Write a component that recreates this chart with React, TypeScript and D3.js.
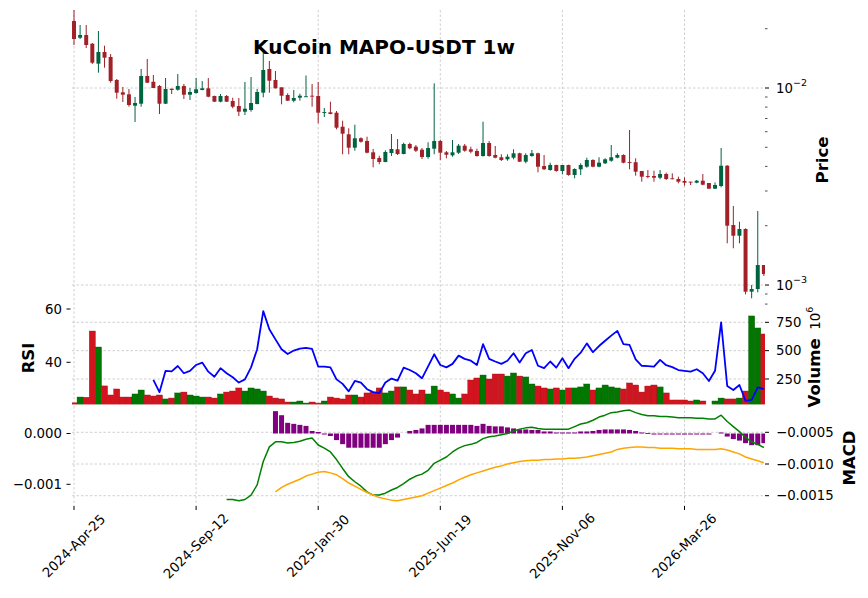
import React from 'react';
import * as d3 from 'd3';

// weekly candles, index 0 = 2024-Apr-25
const tickIdx = [0, 20, 40, 60, 80, 100];
const tickLabels = ['2024-Apr-25', '2024-Sep-12', '2025-Jan-30', '2025-Jun-19', '2025-Nov-06', '2026-Mar-26'];

const opens = [
  0.02188, 0.01800, 0.01858, 0.01678, 0.01329, 0.01523, 0.01437, 0.01098, 0.009510, 0.009290,
  0.008131, 0.008323, 0.01151, 0.01076, 0.01024, 0.008323, 0.009919, 0.009803, 0.01024, 0.009247,
  0.009433, 0.009769, 0.009965, 0.009107, 0.008520, 0.009107, 0.008590, 0.008103, 0.007581, 0.007733,
  0.008294, 0.009466, 0.01249, 0.01098, 0.01008, 0.009214, 0.008621, 0.008928, 0.009001, 0.009139,
  0.009107, 0.007493, 0.007528, 0.007493, 0.006362, 0.005821, 0.004977, 0.005555, 0.005382, 0.004716,
  0.004412, 0.004211, 0.004678, 0.004885, 0.004624, 0.005197, 0.005035, 0.004862, 0.004464, 0.004919,
  0.005382, 0.004716, 0.004554, 0.004694, 0.005095, 0.004885, 0.004789, 0.004517, 0.005258, 0.004570,
  0.004449, 0.004346, 0.004428, 0.004662, 0.004226, 0.004517, 0.004662, 0.004018, 0.003835, 0.004066,
  0.003791, 0.004066, 0.003617, 0.003867, 0.003986, 0.004311, 0.003986, 0.004147, 0.004275, 0.004428,
  0.004570, 0.004211, 0.004200, 0.003791, 0.003575, 0.003575, 0.003505, 0.003660, 0.003480, 0.003452,
  0.003372, 0.003345, 0.003306, 0.003384, 0.003294, 0.003082, 0.003181, 0.004032, 0.002016, 0.001779,
  0.001924, 0.000925, 0.000954, 0.001263,
];
const highs = [
  0.02489, 0.02088, 0.02088, 0.01692, 0.01947, 0.01640, 0.01488, 0.01111, 0.01012, 0.009884,
  0.009001, 0.01249, 0.01404, 0.01164, 0.01036, 0.01124, 0.009919, 0.01178, 0.01048, 0.01000,
  0.01124, 0.01085, 0.01124, 0.009150, 0.009322, 0.009214, 0.008928, 0.008897, 0.01073, 0.01137,
  0.009884, 0.01547, 0.01371, 0.01220, 0.01008, 0.009400, 0.009769, 0.009356, 0.01157, 0.01048,
  0.01073, 0.007916, 0.008520, 0.007643, 0.006824, 0.006244, 0.006512, 0.005620, 0.005660, 0.004902,
  0.004533, 0.004828, 0.005841, 0.005510, 0.005277, 0.005277, 0.005136, 0.004959, 0.005301, 0.01056,
  0.005464, 0.004789, 0.005445, 0.005197, 0.005197, 0.005035, 0.004919, 0.006744, 0.005382, 0.005077,
  0.004608, 0.004608, 0.004885, 0.004694, 0.004662, 0.004845, 0.004694, 0.004570, 0.004177, 0.004080,
  0.004066, 0.004080, 0.003912, 0.004147, 0.004428, 0.004346, 0.004449, 0.004397, 0.005136, 0.004662,
  0.004608, 0.006121, 0.004397, 0.003791, 0.003835, 0.003804, 0.003835, 0.003716, 0.003690, 0.003546,
  0.003521, 0.003345, 0.003412, 0.003660, 0.003294, 0.003320, 0.004959, 0.004060, 0.002518, 0.002096,
  0.001940, 0.001000, 0.002375, 0.001263,
];
const lows = [
  0.01653, 0.01773, 0.01596, 0.01324, 0.01196, 0.01268, 0.01064, 0.008824, 0.008491, 0.008036,
  0.006721, 0.008036, 0.01060, 0.01000, 0.007380, 0.008300, 0.009322, 0.009689, 0.008794, 0.008691,
  0.009356, 0.009735, 0.008970, 0.008500, 0.008461, 0.008491, 0.007888, 0.007209, 0.007293, 0.007581,
  0.008265, 0.008970, 0.009466, 0.009950, 0.008265, 0.008590, 0.008461, 0.008621, 0.009000, 0.008036,
  0.006619, 0.007125, 0.007354, 0.006171, 0.004608, 0.004608, 0.004806, 0.005277, 0.004662, 0.003958,
  0.004099, 0.004200, 0.004517, 0.004570, 0.004608, 0.004885, 0.004733, 0.004361, 0.004377, 0.004608,
  0.004311, 0.004397, 0.004480, 0.004624, 0.004750, 0.004662, 0.004480, 0.004480, 0.004480, 0.004397,
  0.004260, 0.004275, 0.004346, 0.004211, 0.004147, 0.004480, 0.003733, 0.003835, 0.003804, 0.003760,
  0.003647, 0.003588, 0.003480, 0.003617, 0.003940, 0.003958, 0.003958, 0.004114, 0.004226, 0.004397,
  0.004147, 0.003867, 0.003588, 0.003345, 0.003480, 0.003345, 0.003440, 0.003412, 0.003440, 0.003283,
  0.003192, 0.003219, 0.003283, 0.003208, 0.003082, 0.003070, 0.003133, 0.001628, 0.001536, 0.001628,
  0.000897, 0.000856, 0.000918, 0.001111,
];
const closes = [
  0.01773, 0.01858, 0.01653, 0.01344, 0.01523, 0.01425, 0.01085, 0.009466, 0.009247, 0.008198,
  0.008392, 0.01151, 0.01064, 0.01000, 0.008323, 0.009884, 0.009769, 0.01024, 0.009247, 0.009543,
  0.009849, 0.009965, 0.009033, 0.008520, 0.009107, 0.008520, 0.008036, 0.007581, 0.007851, 0.008392,
  0.009543, 0.01234, 0.01089, 0.009965, 0.009139, 0.008621, 0.008897, 0.009139, 0.009075, 0.009075,
  0.007493, 0.007554, 0.007380, 0.006288, 0.005862, 0.004977, 0.005555, 0.005339, 0.004694, 0.004361,
  0.004211, 0.004733, 0.004902, 0.004624, 0.005197, 0.004942, 0.004806, 0.004464, 0.004959, 0.005382,
  0.004694, 0.004586, 0.004716, 0.005095, 0.004806, 0.004750, 0.004517, 0.005258, 0.004517, 0.004428,
  0.004311, 0.004480, 0.004662, 0.004226, 0.004570, 0.004662, 0.003986, 0.003867, 0.004066, 0.003791,
  0.004066, 0.003617, 0.003880, 0.004066, 0.004311, 0.003986, 0.004177, 0.004346, 0.004449, 0.004570,
  0.004177, 0.004186, 0.003760, 0.003546, 0.003546, 0.003505, 0.003660, 0.003452, 0.003452, 0.003345,
  0.003306, 0.003320, 0.003384, 0.003230, 0.003082, 0.003219, 0.004032, 0.002000, 0.001779, 0.001924,
  0.000925, 0.000954, 0.001263, 0.001137,
];
// volume in units of 10^6
const volumes = [
  40, 91, 89, 673, 532, 189, 109, 162, 91, 91,
  118, 153, 109, 100, 109, 74, 82, 127, 135, 109,
  100, 91, 91, 82, 118, 135, 144, 171, 144, 171,
  162, 144, 100, 82, 74, 47, 47, 56, 38, 47,
  38, 56, 91, 82, 74, 109, 109, 91, 127, 135,
  171, 127, 144, 180, 180, 153, 118, 153, 118, 188,
  153, 135, 118, 82, 118, 241, 259, 285, 250, 294,
  294, 276, 303, 276, 268, 206, 188, 171, 162, 171,
  153, 171, 171, 180, 206, 153, 171, 197, 180, 171,
  162, 215, 197, 135, 188, 197, 180, 127, 65, 65,
  65, 56, 65, 56, 0, 56, 82, 74, 74, 82,
  144, 806, 700, 647,
];

const rsiStart = 13;
const rsi = [
  33.4, 28.8, 36.8, 36.6, 38.6, 35.9, 36.8, 39.0, 39.9, 36.5,
  34.6, 37.8, 35.9, 34.4, 32.4, 33.6, 38.1, 44.9, 59.2, 52.4,
  48.6, 44.9, 43.1, 44.4, 45.1, 45.4, 45.0, 38.4, 38.4, 38.1,
  33.6, 31.9, 29.1, 33.0, 32.4, 29.9, 28.8, 28.4, 32.4, 33.9,
  33.1, 38.0, 37.1, 35.9, 34.0, 38.5, 43.0, 39.0, 38.1, 39.4,
  42.5, 41.3, 40.6, 39.0, 46.8, 41.3, 40.3, 39.4, 40.6, 43.4,
  39.9, 43.4, 44.6, 38.7, 37.8, 40.3, 38.0, 41.5, 37.8, 41.3,
  43.6, 47.1, 43.8, 46.1, 48.1, 50.0, 51.8, 46.8, 46.5, 41.1,
  38.7, 38.6, 38.4, 40.9, 38.9, 38.2, 37.1, 36.8, 36.5, 37.4,
  35.9, 33.0, 36.8, 55.0, 31.1, 29.6, 31.5, 25.5, 25.9, 30.6, 29.9,
];

const macdStart = 25;
const macd = [
  -0.00156, -0.00156, -0.00158, -0.00156, -0.00149, -0.00133, -0.00096, -0.00073, -0.00065, -0.00065,
  -0.00067, -0.00066, -0.00064, -0.00061, -0.00059, -0.00070, -0.00075, -0.00081, -0.00093, -0.00107,
  -0.00120, -0.00128, -0.00135, -0.00144, -0.00149, -0.00149, -0.00146, -0.00141, -0.00137, -0.00131,
  -0.00124, -0.00119, -0.00116, -0.00110, -0.00099, -0.00094, -0.00089, -0.00081, -0.00075, -0.00071,
  -0.00069, -0.00066, -0.00060, -0.00057, -0.00056, -0.00054, -0.00052, -0.00048, -0.00045, -0.00043,
  -0.00042, -0.00044, -0.00045, -0.00045, -0.00045, -0.00045, -0.00045, -0.00041, -0.00037, -0.00035,
  -0.00031, -0.00026, -0.00023, -0.00019, -0.00018, -0.00016, -0.00015, -0.00019, -0.00022, -0.00024,
  -0.00024, -0.00025, -0.00025, -0.00026, -0.00027, -0.00027, -0.00027, -0.00028, -0.00028, -0.00029,
  -0.00029, -0.00023, -0.00033, -0.00041, -0.00049, -0.00058, -0.00065, -0.00069, -0.00074,
];

const signalStart = 33;
const signal = [
  -0.00144, -0.00137, -0.00132, -0.00128, -0.00124, -0.00119, -0.00116, -0.00113, -0.00112, -0.00114,
  -0.00117, -0.00123, -0.00130, -0.00135, -0.00140, -0.00145, -0.00149, -0.00153, -0.00155, -0.00157,
  -0.00158, -0.00156, -0.00154, -0.00152, -0.00150, -0.00146, -0.00142, -0.00138, -0.00134, -0.00130,
  -0.00125, -0.00121, -0.00117, -0.00114, -0.00111, -0.00108, -0.00105, -0.00103, -0.00100, -0.00098,
  -0.00096, -0.00095, -0.00094, -0.00094, -0.00093, -0.00093, -0.00092, -0.00092, -0.00091, -0.00091,
  -0.00090, -0.00089, -0.00087, -0.00085, -0.00083, -0.00081, -0.00077, -0.00075, -0.00074, -0.00073,
  -0.00073, -0.00074, -0.00074, -0.00075, -0.00075, -0.00075, -0.00076, -0.00076, -0.00076, -0.00077,
  -0.00077, -0.00077, -0.00077, -0.00076, -0.00078, -0.00081, -0.00084, -0.00089, -0.00092, -0.00095, -0.00098,
];

const histStart = 33;
const hist = [
  0.00044, 0.00036, 0.00021, 0.00019, 0.00017, 0.00015, 0.00005, 0.00003, -0.00002, -0.00005,
  -0.00013, -0.00021, -0.00028, -0.00028, -0.00028, -0.00028, -0.00028, -0.00028, -0.00021, -0.00013,
  -0.00008, 0, 0.00005, 0.00007, 0.0001, 0.00017, 0.00017, 0.00017, 0.00017, 0.00017,
  0.00017, 0.00017, 0.00017, 0.00015, 0.00019, 0.00015, 0.00014, 0.00014, 0.00012, 0.0001,
  0.00008, 0.00008, 0.00007, 0.00007, 0.00004, 0.00004, 0.00002, 0.00002, 0.00002, 0.00002,
  0.00004, 0.00004, 0.00005, 0.00007, 0.00008, 0.00008, 0.00008, 0.00008, 0.00007, 0.00005,
  0.00002, 0.00001, -0.00002, -0.00002, -0.00002, -0.00002, -0.00002, -0.00002, -0.00002, -0.00002,
  -0.00002, -0.00002, 0, 0.00002, -0.00006, -0.00011, -0.00014, -0.00019, -0.00023, -0.00023, -0.00019,
];

const rsiTicks = [40, 60];
const volTicks = [250, 500, 750];
const histTicks = [0, -0.001];
const macdTicks = [-0.0005, -0.001, -0.0015];

const UP = '#006340';
const DOWN = '#a02128';
const VUP = '#007800';
const VDOWN = '#d2141e';
const FONT = 'DejaVu Sans, sans-serif';
const GRID = '#c4c4c4';

const minus = (s: string) => s.replace('-', '\u2212');

export default function App() {
  const W = 868, H = 598;
  const left = 72, right = 765;
  const pTop = 10, pBot = 307, vBot = 404.5, mBot = 506;

  const x = d3.scaleLinear().domain([0, 100]).range([74, 684.5]);
  const step = x(1) - x(0);
  const yPrice = d3.scaleLog().domain([0.01, 0.001]).range([88, 285]);
  const yVol = d3.scaleLinear().domain([250, 750]).range([379, 322.3]);
  const yRsi = d3.scaleLinear().domain([40, 60]).range([362.3, 309]);
  const yHist = d3.scaleLinear().domain([-0.001, 0]).range([484.3, 433.5]);
  const yMacd = d3.scaleLinear().domain([-0.0015, -0.0005]).range([495.7, 432.3]);

  const priceDomain = [yPrice.invert(pBot), yPrice.invert(pTop)];
  const priceTicks = d3.scaleLog().domain(priceDomain).ticks()
    .filter(t => yPrice(t) >= pTop && yPrice(t) <= pBot);
  const isMajor = (t: number) => Math.abs(Math.log10(t) - Math.round(Math.log10(t))) < 1e-6;

  const rsiLine = d3.line<number>().x((d, i) => x(i + rsiStart)).y(d => yRsi(d));
  const macdLine = d3.line<number>().x((d, i) => x(i + macdStart)).y(d => yMacd(d));
  const signalLine = d3.line<number>().x((d, i) => x(i + signalStart)).y(d => yMacd(d));

  const bw = step * 0.65;
  const hw = step * 0.82;

  return (
    <svg width={W} height={H} style={{ position: 'absolute', left: 0, top: 0, background: '#fff' }}
         fontFamily={FONT}>
      <defs>
        <clipPath id="cp-price"><rect x={left} y={pTop} width={right - left} height={pBot - pTop} /></clipPath>
        <clipPath id="cp-vol"><rect x={left} y={pBot} width={right - left} height={vBot - pBot} /></clipPath>
        <clipPath id="cp-macd"><rect x={left} y={vBot} width={right - left} height={mBot - vBot} /></clipPath>
      </defs>

      {/* grid */}
      <g stroke={GRID} strokeWidth={0.8} strokeDasharray="2.5,2" fill="none">
        {tickIdx.map(t => <line key={'vg' + t} x1={x(t)} x2={x(t)} y1={pTop} y2={mBot} />)}
        {priceTicks.filter(isMajor).map(t =>
          <line key={'pg' + t} x1={left} x2={right} y1={yPrice(t)} y2={yPrice(t)} />)}
        {volTicks.map(t => <line key={'volg' + t} x1={left} x2={right} y1={yVol(t)} y2={yVol(t)} />)}
        {macdTicks.map(t => <line key={'mg' + t} x1={left} x2={right} y1={yMacd(t)} y2={yMacd(t)} />)}
      </g>

      {/* candles */}
      <g clipPath="url(#cp-price)">
        {opens.map((o, i) => {
          const c = closes[i];
          const col = c >= o ? UP : DOWN;
          const cx = x(i);
          const y0 = yPrice(Math.max(o, c));
          const y1 = yPrice(Math.min(o, c));
          return (
            <g key={i}>
              <line x1={cx} x2={cx} y1={yPrice(highs[i])} y2={yPrice(lows[i])} stroke={col} strokeWidth={1} />
              <rect x={cx - bw / 2} y={y0} width={bw} height={Math.max(y1 - y0, 0.9)} fill={col} />
            </g>
          );
        })}
      </g>

      {/* volume + RSI */}
      <g clipPath="url(#cp-vol)">
        {volumes.map((v, i) => {
          if (!v) return null;
          const up = closes[i] >= opens[i];
          return <rect key={i} x={x(i) - step / 2} y={yVol(v)} width={step} height={vBot - yVol(v)}
                       fill={up ? VUP : VDOWN} stroke={up ? '#005a00' : '#a80e16'} strokeWidth={0.4} />;
        })}
        <path d={rsiLine(rsi) || ''} fill="none" stroke="#0000ff" strokeWidth={1.8} strokeLinejoin="round" />
      </g>

      {/* MACD */}
      <g clipPath="url(#cp-macd)">
        {hist.map((v, i) => {
          if (!v) return null;
          const ya = yHist(Math.max(v, 0));
          const yb = yHist(Math.min(v, 0));
          return <rect key={i} x={x(i + histStart) - hw / 2} y={ya} width={hw} height={Math.max(yb - ya, 0.9)}
                       fill="#800080" />;
        })}
        <path d={macdLine(macd) || ''} fill="none" stroke="#008000" strokeWidth={1.5} strokeLinejoin="round" />
        <path d={signalLine(signal) || ''} fill="none" stroke="#ffa500" strokeWidth={1.5} strokeLinejoin="round" />
      </g>

      {/* right axis: price */}
      <g fontSize={13.3} fill="#000">
        {priceTicks.map(t => {
          const major = isMajor(t);
          const yy = yPrice(t);
          return (
            <g key={'pt' + t}>
              <line x1={right} x2={right + (major ? 4 : 2.5)} y1={yy} y2={yy} stroke="#000" strokeWidth={major ? 1 : 0.7} />
              {major && (
                <text x={776} y={yy} dominantBaseline="central">
                  10<tspan fontSize={9.5} dy={-6}>{minus(String(Math.round(Math.log10(t))))}</tspan>
                </text>
              )}
            </g>
          );
        })}
        {volTicks.map(t => (
          <g key={'vt' + t}>
            <line x1={right} x2={right + 4} y1={yVol(t)} y2={yVol(t)} stroke="#000" />
            <text x={776} y={yVol(t)} dominantBaseline="central">{t}</text>
          </g>
        ))}
        {macdTicks.map(t => (
          <g key={'mt' + t}>
            <line x1={right} x2={right + 4} y1={yMacd(t)} y2={yMacd(t)} stroke="#000" />
            <text x={776} y={yMacd(t)} dominantBaseline="central">{minus(t.toFixed(4))}</text>
          </g>
        ))}
      </g>

      {/* left axis: RSI + histogram */}
      <g fontSize={13.3} fill="#000">
        {rsiTicks.map(t => (
          <g key={'rt' + t}>
            <line x1={66.5} x2={70.5} y1={yRsi(t)} y2={yRsi(t)} stroke="#000" />
            <text x={62} y={yRsi(t)} textAnchor="end" dominantBaseline="central">{t}</text>
          </g>
        ))}
        {histTicks.map(t => (
          <g key={'ht' + t}>
            <line x1={66.5} x2={70.5} y1={yHist(t)} y2={yHist(t)} stroke="#000" />
            <text x={62} y={yHist(t)} textAnchor="end" dominantBaseline="central">{minus(t.toFixed(3))}</text>
          </g>
        ))}
      </g>

      {/* x axis */}
      <g fontSize={13.3} fill="#000">
        {tickIdx.map((t, k) => (
          <g key={'xt' + t}>
            <line x1={x(t)} x2={x(t)} y1={mBot} y2={mBot + 4} stroke="#000" />
            <text transform={`translate(${x(t)},546) rotate(-45)`} textAnchor="middle" dominantBaseline="central">
              {tickLabels[k]}
            </text>
          </g>
        ))}
      </g>

      {/* labels */}
      <text x={384} y={53.5} textAnchor="middle" fontSize={20} fontWeight="bold">KuCoin MAPO-USDT 1w</text>
      <text transform="translate(828,160) rotate(-90)" textAnchor="middle" fontSize={16.5} fontWeight="bold">Price</text>
      <text transform="translate(34,358) rotate(-90)" textAnchor="middle" fontSize={16.5} fontWeight="bold">RSI</text>
      <text transform="translate(855,458) rotate(-90)" textAnchor="middle" fontSize={16.5} fontWeight="bold">MACD</text>
      <text transform="translate(820,357) rotate(-90)" textAnchor="middle">
        <tspan fontSize={16.5} fontWeight="bold">Volume</tspan>
        <tspan fontSize={13.5}>{'\u00a0\u00a010'}</tspan>
        <tspan fontSize={9.5} dy={-7}>6</tspan>
      </text>
    </svg>
  );
}
